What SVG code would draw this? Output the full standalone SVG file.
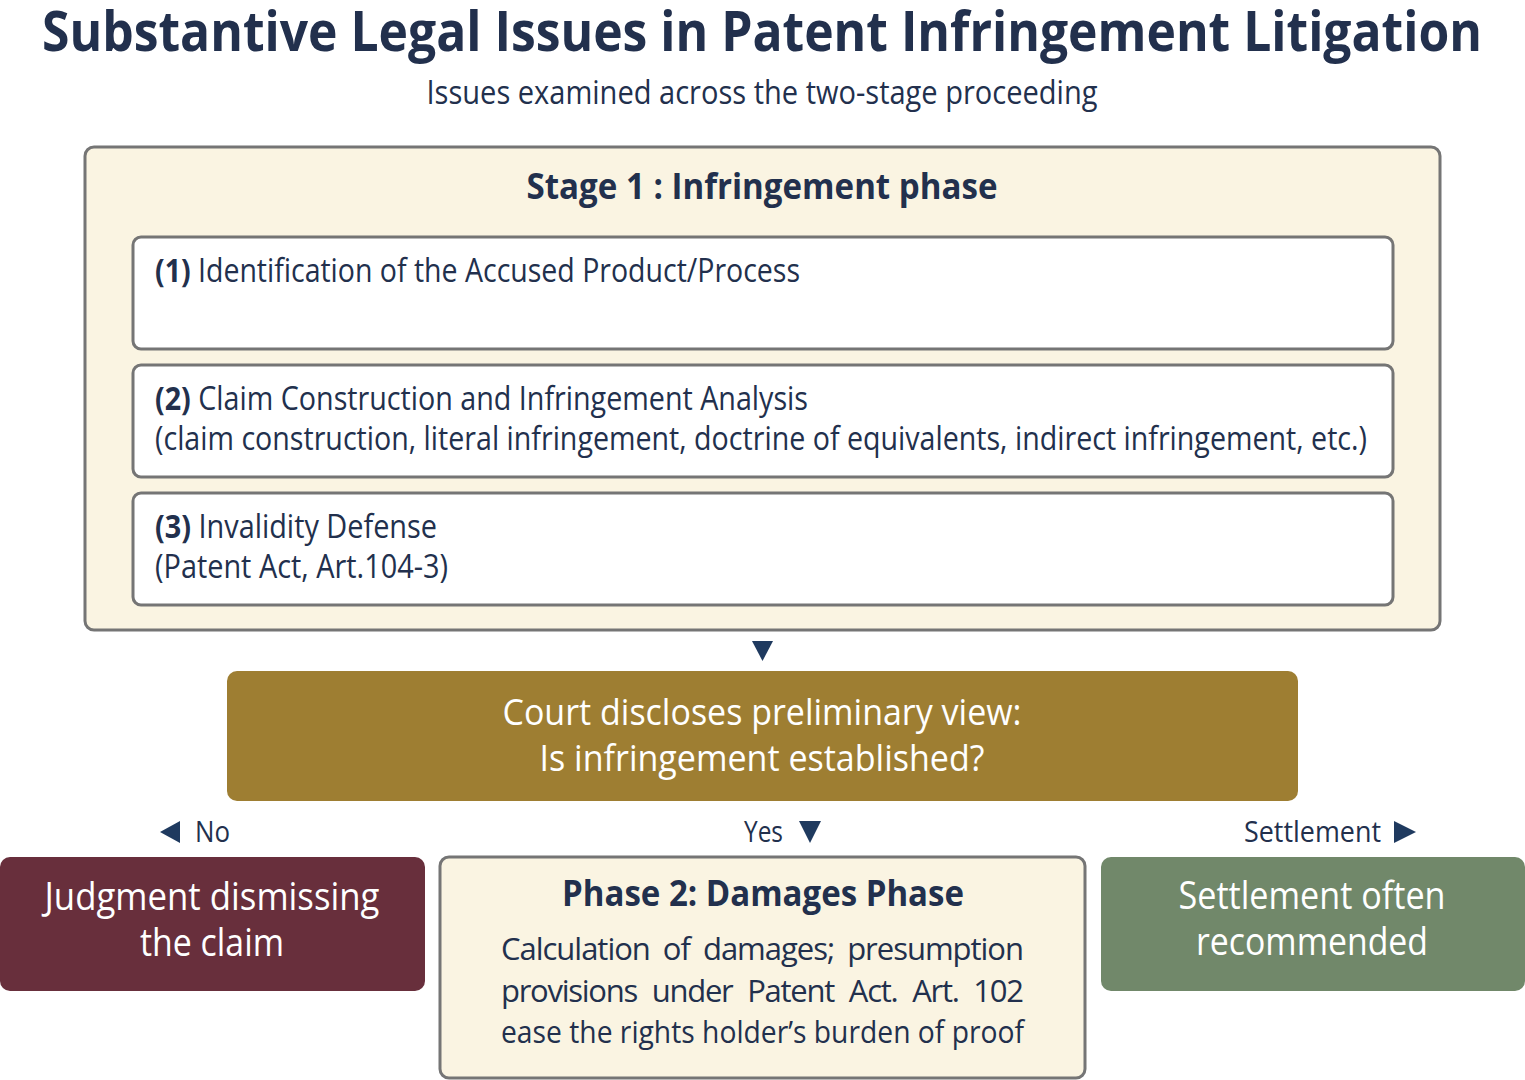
<svg xmlns="http://www.w3.org/2000/svg" width="1525" height="1080" viewBox="0 0 1525 1080">
<defs>
<style>
text{font-family:"Open Sans","Noto Sans","Liberation Sans",sans-serif;fill:#22304d;}
.b{font-weight:700;}
.w{fill:#ffffff;}
.frame{fill:#faf4e2;stroke:#757575;stroke-width:3;}
.item{fill:#ffffff;stroke:#757575;stroke-width:3;}
.tri{fill:#1f3a5f;}
</style>
</defs>
<rect width="1525" height="1080" fill="#ffffff"/>
<g id="title">
<text class="b" x="762" y="51" font-size="56" text-anchor="middle" textLength="1440" lengthAdjust="spacingAndGlyphs">Substantive Legal Issues in Patent Infringement Litigation</text>
<text x="762" y="104" font-size="32" text-anchor="middle" textLength="671" lengthAdjust="spacingAndGlyphs">Issues examined across the two-stage proceeding</text>
</g>
<g id="stage1">
<rect class="frame" x="85" y="147" width="1355" height="483" rx="9"/>
<text class="b" x="762" y="199" font-size="35" text-anchor="middle" textLength="471" lengthAdjust="spacingAndGlyphs">Stage 1 : Infringement phase</text>
</g>
<g id="item1">
<rect class="item" x="133" y="237" width="1260" height="112" rx="8"/>
<text x="155" y="282" font-size="32" textLength="645" lengthAdjust="spacingAndGlyphs"><tspan class="b">(1)</tspan> Identification of the Accused Product/Process</text>
</g>
<g id="item2">
<rect class="item" x="133" y="365" width="1260" height="112" rx="8"/>
<text x="155" y="410" font-size="32" textLength="653" lengthAdjust="spacingAndGlyphs"><tspan class="b">(2)</tspan> Claim Construction and Infringement Analysis</text>
<text x="155" y="450" font-size="32" textLength="1212" lengthAdjust="spacingAndGlyphs">(claim construction, literal infringement, doctrine of equivalents, indirect infringement, etc.)</text>
</g>
<g id="item3">
<rect class="item" x="133" y="493" width="1260" height="112" rx="8"/>
<text x="155" y="538" font-size="32" textLength="282" lengthAdjust="spacingAndGlyphs"><tspan class="b">(3)</tspan> Invalidity Defense</text>
<text x="155" y="578" font-size="32" textLength="293" lengthAdjust="spacingAndGlyphs">(Patent Act, Art.104-3)</text>
</g>
<g id="connectors">
<polygon class="tri" points="752,641 773,641 762.5,661"/>
<polygon class="tri" points="180,821 180,843 160,832"/>
<text x="195" y="842" font-size="30" textLength="35" lengthAdjust="spacingAndGlyphs">No</text>
<text x="744" y="842" font-size="30" textLength="39" lengthAdjust="spacingAndGlyphs">Yes</text>
<polygon class="tri" points="799,821 821,821 810,843"/>
<text x="1244" y="842" font-size="30" textLength="137" lengthAdjust="spacingAndGlyphs">Settlement</text>
<polygon class="tri" points="1394,821 1394,843 1416,832"/>
</g>
<g id="court">
<rect x="227" y="671" width="1071" height="130" rx="10" fill="#9e7e32"/>
<text class="w" x="762" y="725" font-size="37" text-anchor="middle" textLength="519" lengthAdjust="spacingAndGlyphs">Court discloses preliminary view:</text>
<text class="w" x="762" y="771" font-size="37" text-anchor="middle" textLength="445" lengthAdjust="spacingAndGlyphs">Is infringement established?</text>
</g>
<g id="dismiss">
<rect x="0" y="857" width="425" height="134" rx="10" fill="#682f3c"/>
<text class="w" x="212" y="910" font-size="38" text-anchor="middle" textLength="335" lengthAdjust="spacingAndGlyphs">Judgment dismissing</text>
<text class="w" x="212" y="956" font-size="38" text-anchor="middle" textLength="144" lengthAdjust="spacingAndGlyphs">the claim</text>
</g>
<g id="phase2">
<rect class="frame" x="440" y="857" width="645" height="221" rx="9"/>
<text class="b" x="763" y="906" font-size="36" text-anchor="middle" textLength="402" lengthAdjust="spacingAndGlyphs">Phase 2: Damages Phase</text>
<text x="501" y="960" font-size="31" textLength="523" lengthAdjust="spacing" word-spacing="6">Calculation of damages; presumption</text>
<text x="501" y="1002" font-size="31" textLength="523" lengthAdjust="spacing" word-spacing="8">provisions under Patent Act. Art. 102</text>
<text x="501" y="1043" font-size="31" textLength="523" lengthAdjust="spacingAndGlyphs">ease the rights holder’s burden of proof</text>
</g>
<g id="settlement">
<rect x="1101" y="857" width="424" height="134" rx="10" fill="#71886a"/>
<text class="w" x="1312" y="909" font-size="38" text-anchor="middle" textLength="267" lengthAdjust="spacingAndGlyphs">Settlement often</text>
<text class="w" x="1312" y="955" font-size="38" text-anchor="middle" textLength="232" lengthAdjust="spacingAndGlyphs">recommended</text>
</g>
</svg>
